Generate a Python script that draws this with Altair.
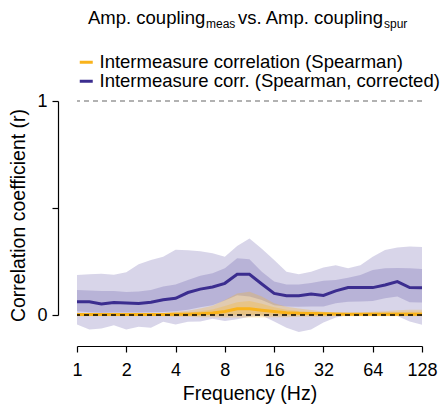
import altair as alt
import pandas as pd

FONT = "Liberation Sans"

freqs = [1, 1.19, 1.41, 1.68, 2, 2.38, 2.83, 3.36, 4, 4.76, 5.66, 6.73, 8, 9.51,
         11.31, 13.45, 16, 19.03, 22.63, 26.91, 32, 38.05, 45.25, 53.82, 64, 76.11,
         90.51, 107.63, 128]

# corrected (blue)
blue_med = [0.062, 0.062, 0.052, 0.058, 0.056, 0.054, 0.060, 0.071, 0.078, 0.105,
            0.121, 0.131, 0.148, 0.190, 0.190, 0.145, 0.101, 0.090, 0.090, 0.098,
            0.091, 0.113, 0.128, 0.128, 0.128, 0.140, 0.156, 0.128, 0.127]
blue_in_hi = [0.117, 0.115, 0.112, 0.112, 0.107, 0.110, 0.117, 0.133, 0.143, 0.164,
              0.183, 0.195, 0.218, 0.265, 0.260, 0.202, 0.156, 0.143, 0.143, 0.150,
              0.160, 0.164, 0.174, 0.187, 0.210, 0.218, 0.220, 0.218, 0.215]
blue_in_lo = [0.018, 0.013, 0.010, 0.012, 0.012, 0.012, 0.013, 0.014, 0.018, 0.025,
              0.036, 0.045, 0.068, 0.092, 0.086, 0.070, 0.045, 0.040, 0.038, 0.040,
              0.040, 0.055, 0.062, 0.063, 0.065, 0.078, 0.086, 0.060, 0.058]
blue_out_hi = [0.187, 0.190, 0.193, 0.188, 0.200, 0.237, 0.257, 0.272, 0.305, 0.302,
               0.298, 0.288, 0.272, 0.322, 0.358, 0.310, 0.257, 0.202, 0.190, 0.202,
               0.222, 0.233, 0.218, 0.233, 0.272, 0.304, 0.315, 0.320, 0.318]
blue_out_lo = [-0.044, -0.068, -0.063, -0.048, -0.068, -0.055, -0.060, -0.032, -0.044,
               -0.032, -0.030, -0.018, -0.028, -0.020, -0.008, -0.002, -0.030, -0.060,
               -0.080, -0.068, -0.035, -0.012, 0.000, 0.002, 0.002, 0.000, -0.005,
               -0.030, -0.045]

# uncorrected (orange)
orange_med = [0.002, 0.002, 0.002, 0.002, 0.002, 0.002, 0.002, 0.002, 0.003, 0.004,
              0.006, 0.009, 0.016, 0.029, 0.029, 0.022, 0.016, 0.011, 0.008, 0.007,
              0.006, 0.005, 0.004, 0.004, 0.004, 0.004, 0.004, 0.004, 0.004]
orange_in_hi = [0.004, 0.004, 0.004, 0.004, 0.004, 0.004, 0.005, 0.006, 0.009, 0.012,
                0.018, 0.026, 0.042, 0.060, 0.065, 0.052, 0.036, 0.025, 0.019, 0.015,
                0.010, 0.008, 0.007, 0.008, 0.010, 0.012, 0.014, 0.015, 0.015]
orange_in_lo = [-0.002, -0.002, -0.002, -0.002, -0.002, -0.002, -0.002, -0.002, -0.002,
                -0.002, -0.002, -0.002, -0.002, 0.000, 0.000, -0.002, -0.002, -0.002,
                -0.002, -0.002, -0.002, -0.002, -0.002, -0.002, -0.002, -0.002, -0.002,
                -0.002, -0.002]
orange_out_hi = [0.005, 0.005, 0.005, 0.005, 0.005, 0.005, 0.006, 0.008, 0.015, 0.020,
                 0.030, 0.043, 0.070, 0.100, 0.109, 0.086, 0.055, 0.039, 0.030, 0.023,
                 0.015, 0.010, 0.010, 0.012, 0.015, 0.018, 0.022, 0.025, 0.025]
orange_out_lo = [-0.006, -0.006, -0.006, -0.006, -0.006, -0.006, -0.006, -0.006, -0.008,
                 -0.008, -0.010, -0.010, -0.012, -0.012, -0.012, -0.012, -0.010, -0.010,
                 -0.008, -0.008, -0.008, -0.006, -0.006, -0.006, -0.006, -0.006, -0.006,
                 -0.006, -0.006]

S_ORANGE = "Intermeasure correlation (Spearman)"
S_BLUE = "Intermeasure corr. (Spearman, corrected)"
C_ORANGE = "#F9B31B"
C_BLUE = "#3B2D8F"

rows = []
for i, f in enumerate(freqs):
    rows.append(dict(freq=f, series=S_BLUE, med=blue_med[i], in_lo=blue_in_lo[i],
                     in_hi=blue_in_hi[i], out_lo=blue_out_lo[i], out_hi=blue_out_hi[i]))
    rows.append(dict(freq=f, series=S_ORANGE, med=orange_med[i], in_lo=orange_in_lo[i],
                     in_hi=orange_in_hi[i], out_lo=orange_out_lo[i], out_hi=orange_out_hi[i]))
df = pd.DataFrame(rows)

x = alt.X("freq:Q",
          scale=alt.Scale(type="log", base=2, domain=[1, 128], nice=False),
          axis=alt.Axis(values=[1, 2, 4, 8, 16, 32, 64, 128], format="d",
                        title="Frequency (Hz)", offset=31, grid=False,
                        tickSize=6, tickColor="black", domainColor="black",
                        labelFontSize=18, titleFontSize=19.5, labelFont=FONT,
                        titleFont=FONT, titleFontWeight="normal", labelColor="black",
                        titleColor="black", labelPadding=9, titlePadding=5,
                        labelFlush=False))
yaxis = alt.Axis(values=[0, 0.5, 1], labelExpr="datum.value == 0.5 ? '' : format(datum.value, 'd')",
                 title="Correlation coefficient (r)", offset=19, grid=False,
                 tickSize=6, tickColor="black", domainColor="black",
                 labelFontSize=18, titleFontSize=19.5, labelFont=FONT, titleFont=FONT,
                 titleFontWeight="normal", labelColor="black", titleColor="black",
                 labelPadding=5, titlePadding=8, titleY=114)
yscale = alt.Scale(domain=[0, 1], nice=False, zero=False)

base = alt.Chart(df)

def bands(series, color, op):
    b = base.transform_filter(alt.datum.series == series)
    outer = b.mark_area(opacity=op, color=color).encode(
        x=x, y=alt.Y("out_lo:Q", scale=yscale, axis=yaxis), y2="out_hi:Q")
    inner = b.mark_area(opacity=op, color=color).encode(
        x=x, y=alt.Y("in_lo:Q", scale=yscale, axis=yaxis), y2="in_hi:Q")
    return outer + inner

lines = base.mark_line(strokeWidth=3).encode(
    x=x,
    y=alt.Y("med:Q", scale=yscale, axis=yaxis),
    color=alt.Color("series:N",
                    scale=alt.Scale(domain=[S_ORANGE, S_BLUE], range=[C_ORANGE, C_BLUE]),
                    legend=alt.Legend(title=None, orient="none", legendX=0, legendY=-48,
                                      symbolType="stroke", symbolStrokeWidth=3,
                                      symbolSize=169, labelFontSize=18.5, labelFont=FONT,
                                      labelColor="black", labelOffset=4, rowPadding=-2,
                                      padding=0, labelLimit=400)),
    order=alt.Order("series:N", sort="descending"),
)

refs = pd.DataFrame({"r": [0, 1], "kind": ["zero", "one"]})
ref_zero = alt.Chart(refs).transform_filter(alt.datum.kind == "zero").mark_rule(
    color="black", strokeDash=[5, 4], strokeWidth=1.5).encode(
    y=alt.Y("r:Q", scale=yscale, axis=yaxis))
ref_one = alt.Chart(refs).transform_filter(alt.datum.kind == "one").mark_rule(
    color="#666666", strokeDash=[5, 4], strokeWidth=1.2).encode(
    y=alt.Y("r:Q", scale=yscale, axis=yaxis))

# title with subscripts
title_parts = pd.DataFrame({"t": ["Amp. coupling", "meas", "vs. Amp. coupling", "spur"]})
def tpart(i, xpos, ypos, size):
    return alt.Chart(title_parts).transform_filter(
        alt.datum.t == title_parts.t[i]).mark_text(
        align="left", baseline="alphabetic", font=FONT, fontSize=size, color="black").encode(
        text="t:N", x=alt.value(xpos), y=alt.value(ypos))

title = (tpart(0, 11, -77, 18.5) + tpart(1, 129, -73, 12) +
         tpart(2, 161, -77, 18.5) + tpart(3, 307, -73, 12))

chart = alt.layer(
    bands(S_BLUE, C_BLUE, 0.2),
    bands(S_ORANGE, C_ORANGE, 0.28),
    lines,
    ref_zero,
    ref_one,
    title,
).properties(
    width=345, height=214,
    autosize=alt.AutoSizeParams(type="none"),
    padding={"left": 77, "top": 101, "right": 21, "bottom": 94},
).configure_view(stroke=None).configure_axis(domainWidth=1.2, tickWidth=1.2)

chart.save("out.html", embed_options={"renderer": "svg", "actions": False})
